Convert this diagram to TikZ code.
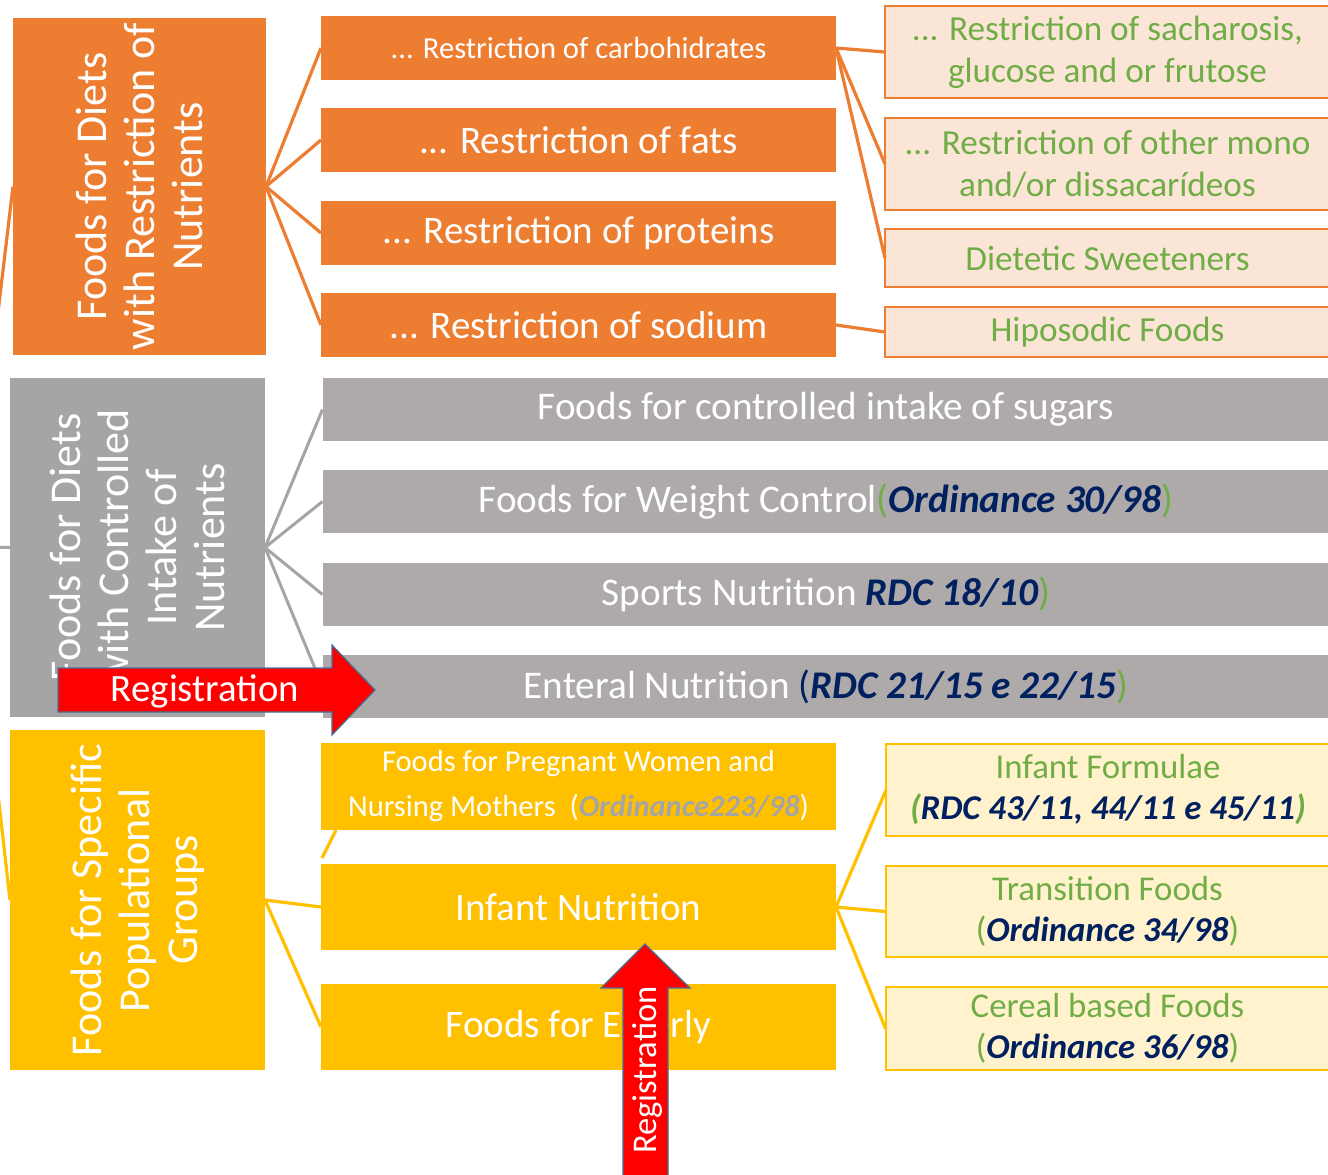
\documentclass[tikz,border=0pt]{standalone}
\usepackage{fontspec}
\setmainfont{Carlito}
\definecolor{orgC}{HTML}{ED7D31}
\definecolor{orgL}{HTML}{FBE5D6}
\definecolor{gryB}{HTML}{A5A5A5}
\definecolor{gryM}{HTML}{AEAAAA}
\definecolor{ylwC}{HTML}{FFC000}
\definecolor{ylwL}{HTML}{FFF2CC}
\definecolor{grn}{HTML}{70AD47}
\definecolor{dblue}{HTML}{002060}
\definecolor{regred}{HTML}{FF0000}
\definecolor{regedge}{HTML}{41719C}
\newcommand{\fsz}[2]{\fontsize{#1}{#2}\selectfont}
\newcommand{\ordi}[1]{{\bfseries\itshape\color{dblue}#1}}
\tikzset{
  boxbase/.style={inner sep=0pt, outer sep=0pt, anchor=center, align=center},
  bigbox/.style={boxbase},
  bigtxt/.style={boxbase, rotate=90, text=white, font=\fsz{22}{24}},
  midbox/.style={boxbase, minimum width=257.5pt, text=white},
  greyrow/.style={boxbase, fill=gryM, minimum width=503.5pt, minimum height=31.5pt, text=white, font=\fsz{19.6}{22}},
  orbox/.style={boxbase, fill=orgL, draw=orgC, line width=1pt, minimum width=222.5pt, text=grn, font=\fsz{17.6}{21}},
  yrbox/.style={boxbase, fill=ylwL, draw=ylwC, line width=1pt, minimum width=222pt, text=grn, font=\fsz{17.4}{20.5}},
  oline/.style={draw=orgC, line width=1.6pt},
  gline/.style={draw=gryB, line width=1.5pt},
  yline/.style={draw=ylwC, line width=1.6pt},
  regarrow/.style={fill=regred, draw=regedge, line width=0.6pt},
  regtxt/.style={boxbase, text=white},
}
\begin{document}
\begin{tikzpicture}[x=0.5pt,y=-0.5pt]
\clip (0,0) rectangle (1328,1174);
\fill[white] (0,0) rectangle (1328,1174);

% ---- left group boxes
\node[bigbox, fill=orgC, minimum width=126.5pt, minimum height=168.5pt] (A) at (139.5,186.5) {};
\node[bigtxt] (Atxt) at (A) {Foods for Diets\\with Restriction of\\Nutrients};
\node[bigbox, fill=gryB, minimum width=127.5pt, minimum height=169.5pt] (B) at (137.5,547.5) {};
\node[bigtxt] (Btxt) at (B) {Foods for Diets\\with Controlled\\Intake of\\Nutrients};
\node[bigbox, fill=ylwC, minimum width=127.5pt, minimum height=170pt] (C) at (137.5,900) {};
\node[bigtxt] (Ctxt) at (C) {Foods for Specific\\Populational\\Groups};

% ---- orange middle
\node[midbox, fill=orgC, minimum height=32pt, font=\fsz{15.3}{18}] (a1) at (578.5,48) {... Restriction of carbohidrates};
\node[midbox, fill=orgC, minimum height=32pt, font=\fsz{19.5}{22}] (a2) at (578.5,140) {... Restriction of fats};
\node[midbox, fill=orgC, minimum height=32pt, font=\fsz{19.5}{22}] (a3) at (578.5,233) {... Restriction of proteins};
\node[midbox, fill=orgC, minimum height=32pt, font=\fsz{19.5}{22}] (a4) at (578.5,325) {... Restriction of sodium};

% ---- orange right
\node[orbox, minimum height=46pt] (r1) at (1107.5,52) {... Restriction of sacharosis,\\glucose and or frutose};
\node[orbox, minimum height=46pt] (r2) at (1107.5,164) {... Restriction of other mono\\and/or dissacarídeos};
\node[orbox, minimum height=29pt] (r3) at (1107.5,258) {Dietetic Sweeteners};
\node[orbox, minimum height=25pt] (r4) at (1107.5,332) {Hiposodic Foods};

% ---- grey rows
\node[greyrow] (b1) at (826,409.5) {Foods for controlled intake of sugars};
\node[greyrow] (b2) at (826,501.5) {Foods for Weight Control{\color{grn}(}\ordi{Ordinance 30/98}{\color{grn})}};
\node[greyrow] (b3) at (826,594.5) {Sports Nutrition \ordi{RDC 18/10}{\color{grn})}};
\node[greyrow] (b4) at (826,686.5) {Enteral Nutrition {\color{dblue}(}\ordi{RDC 21/15 e 22/15}{\color{grn})}};

% ---- yellow middle
\node[midbox, fill=ylwC, minimum height=43.5pt, font=\fsz{15.25}{22.5}] (c1) at (578.5,786.5) {Foods for Pregnant Women and\\Nursing Mothers\ \ (\textbf{\textit{\color{gryB}Ordinance223/98}})};
\node[midbox, fill=ylwC, minimum height=43pt, font=\fsz{19.5}{22}] (c2) at (578.5,907) {Infant Nutrition};
\node[midbox, fill=ylwC, minimum height=43pt, font=\fsz{19.5}{22}] (c3) at (578.5,1027) {Foods for Elderly};

% ---- yellow right
\node[yrbox, minimum height=46pt] (y1) at (1108,790) {Infant Formulae\\{\bfseries\itshape (}\ordi{RDC 43/11, 44/11 e 45/11}{\bfseries\itshape )}};
\node[yrbox, minimum height=45.5pt] (y2) at (1107.5,911.5) {Transition Foods\\(\ordi{Ordinance 34/98})};
\node[yrbox, minimum height=41.5pt] (y3) at (1107.5,1028.5) {Cereal based Foods\\(\ordi{Ordinance 36/98})};

% ---- connectors
\coordinate (root) at (-30,547);
\draw[oline] (root) -- (A.west);
\draw[gline] (root) -- (B.west);
\draw[yline] (root) -- (C.west);
\foreach \t in {a1,a2,a3,a4} \draw[oline] (A.east) -- (\t.west);
\foreach \t in {r1,r2,r3} \draw[oline] (a1.east) -- (\t.west);
\draw[oline] (a4.east) -- (r4.west);
\foreach \t in {b1,b2,b3,b4} \draw[gline] (B.east) -- (\t.west);
\coordinate (cstub) at (322,858);
\draw[yline] (cstub) -- ([xshift=7.5pt]c1.south west);
\draw[yline] (C.east) -- (c2.west);
\draw[yline] (C.east) -- (c3.west);
\foreach \t in {y1,y2,y3} \draw[yline] (c2.east) -- (\t.west);

% ---- registration arrows
\draw[regarrow] (58,668) -- (332,668) -- (332,645) -- (375,690) -- (332,735) -- (332,712) -- (58,712) -- cycle;
\node[regtxt, font=\fsz{19.4}{22}] (reg1) at (205,691) {Registration};
\draw[regarrow] (623,1185) -- (623,988) -- (601,988) -- (645,944) -- (690,988) -- (668,988) -- (668,1185) -- cycle;
\node[regtxt, rotate=90, font=\fsz{17.3}{20}] (reg2) at (648,1070) {Registration};
\end{tikzpicture}
\end{document}
